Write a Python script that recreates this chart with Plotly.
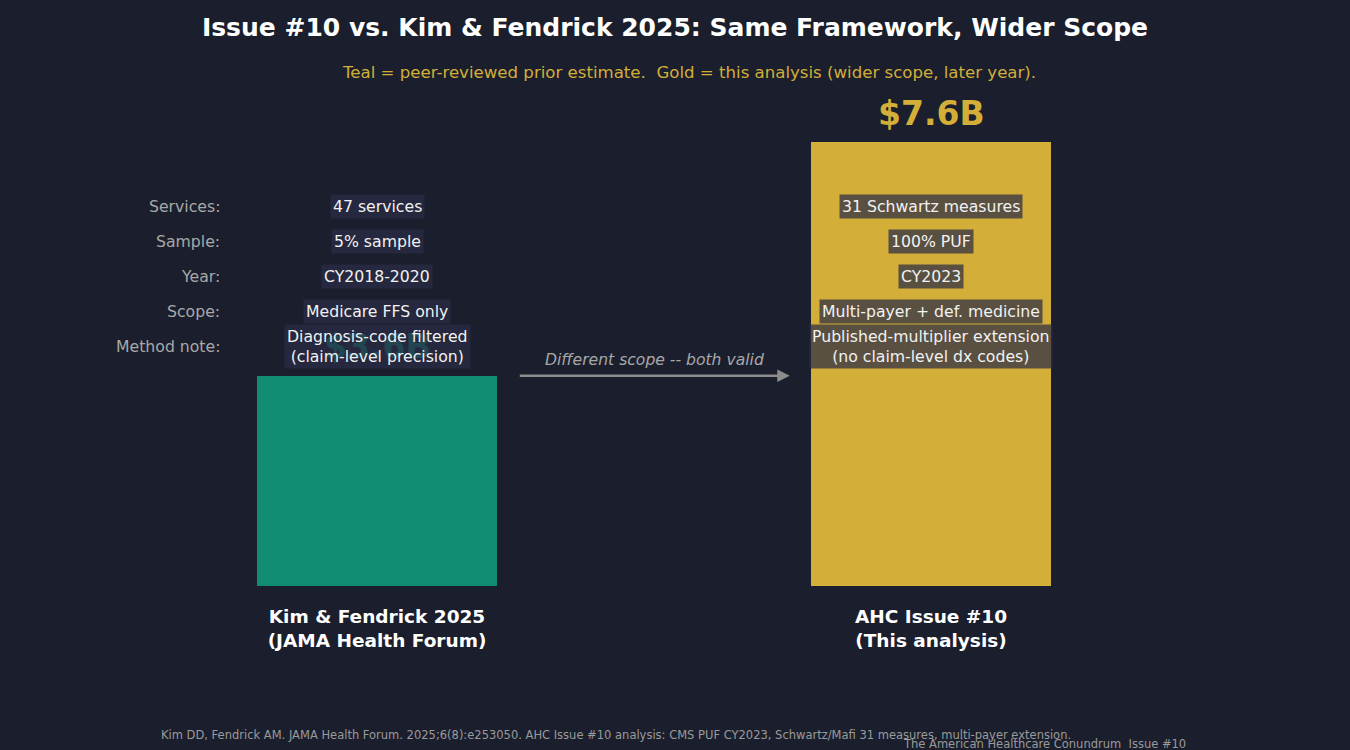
import plotly.graph_objects as go

# ---- data ----
categories = ["Kim & Fendrick 2025<br>(JAMA Health Forum)", "AHC Issue #10<br>(This analysis)"]
values = [3.6, 7.6]
value_labels = ["$3.6B", "$7.6B"]
bar_colors = ["#0f8c72", "#d3ae38"]
row_labels = ["Services:", "Sample:", "Year:", "Scope:", "Method note:"]
left_details = ["47 services", "5% sample", "CY2018-2020", "Medicare FFS only",
                "Diagnosis-code filtered<br>(claim-level precision)"]
right_details = ["31 Schwartz measures", "100% PUF", "CY2023", "Multi-payer + def. medicine",
                 "Published-multiplier extension<br>(no claim-level dx codes)"]
row_y = [6.5, 5.9, 5.3, 4.7, 4.1]

BG = "#1b1f2d"
FONT = "DejaVu Sans"
xs = [0, 1]

fig = go.Figure()
fig.add_trace(go.Bar(x=xs, y=values, width=0.433, marker=dict(color=bar_colors, line=dict(width=0)),
                     hoverinfo="skip", showlegend=False))

ann = []
# value labels (drawn first so boxes sit on top)
for x, v, lab, c in zip(xs, values, value_labels, bar_colors):
    ann.append(dict(x=x, y=v, xref="x", yref="y", text=f"<b>{lab}</b>", showarrow=False,
                    yshift=29, font=dict(family=FONT, size=33, color=c)))

for y, lab in zip(row_y, row_labels):
    ann.append(dict(x=-0.28, y=y, xref="x", yref="y", text=lab, showarrow=False, xanchor="right",
                    font=dict(family=FONT, size=15.7, color="#a8a8a8")))
for x, details in zip(xs, [left_details, right_details]):
    for y, d in zip(row_y, details):
        ann.append(dict(x=x, y=y, xref="x", yref="y", text=d, showarrow=False,
                        font=dict(family=FONT, size=15.7, color="#f2f2f2"),
                        bgcolor="rgba(42,44,69,0.72)", borderpad=2))

# arrow
ann.append(dict(x=0.745, y=values[0], ax=0.255, ay=values[0], xref="x", yref="y", axref="x", ayref="y",
                text="", showarrow=True, arrowhead=2, arrowsize=1, arrowwidth=2.5, arrowcolor="#8c8c8c"))
ann.append(dict(x=0.5, y=values[0], xref="x", yref="y", text="<i>Different scope -- both valid</i>",
                showarrow=False, yshift=16, font=dict(family=FONT, size=15.6, color="#a8a8a8")))

fig.update_layout(
    width=1350, height=750,
    paper_bgcolor=BG, plot_bgcolor=BG,
    margin=dict(l=100, r=142, t=100, b=164),
    title=dict(text="<b>Issue #10 vs. Kim & Fendrick 2025: Same Framework, Wider Scope</b>",
               x=0.5, xref="container", xanchor="center", y=1 - 27 / 750, yref="container", yanchor="middle",
               font=dict(family=FONT, size=25, color="#ffffff")),
    xaxis=dict(range=[-0.5, 1.5], tickvals=xs, ticktext=[f"<b>{c}</b>" for c in categories],
               showgrid=False, zeroline=False, showline=False, ticks="",
               tickfont=dict(family=FONT, size=18.5, color="#ffffff"), ticklabelstandoff=17),
    yaxis=dict(range=[0, 8.32], visible=False, showgrid=False, zeroline=False),
    annotations=ann,
    bargap=0,
)

plot_h = 750 - 100 - 164
def paper_y(py):
    return (750 - 164 - py) / plot_h

def paper_x(px):
    return (px - 100) / (1350 - 100 - 142)

fig.add_annotation(x=paper_x(689), xref="paper", y=paper_y(72), yref="paper", showarrow=False,
                   xanchor="center", yanchor="middle",
                   text="Teal = peer-reviewed prior estimate.  Gold = this analysis (wider scope, later year).",
                   font=dict(family=FONT, size=16.6, color="#d3ae38"))
fig.add_annotation(x=paper_x(616), xref="paper", y=paper_y(735), yref="paper", showarrow=False,
                   xanchor="center", yanchor="middle",
                   text="Kim DD, Fendrick AM. JAMA Health Forum. 2025;6(8):e253050. AHC Issue #10 analysis: CMS PUF CY2023, Schwartz/Mafi 31 measures, multi-payer extension.",
                   font=dict(family=FONT, size=11.5, color="#9a9a9a"))
fig.add_annotation(x=paper_x(1188), xref="paper", y=paper_y(744), yref="paper", showarrow=False,
                   xanchor="right", yanchor="middle",
                   text="The American Healthcare Conundrum  Issue #10",
                   font=dict(family=FONT, size=11.5, color="#9a9a9a"))

fig.write_html("out.html")
